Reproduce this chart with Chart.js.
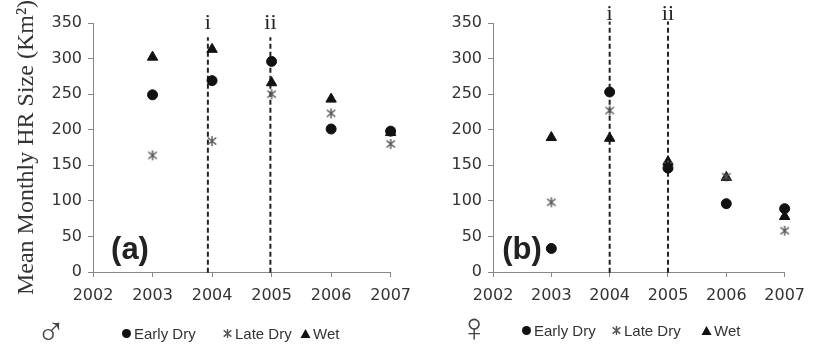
<!DOCTYPE html>
<html>
<head>
<meta charset="utf-8">
<script src="https://cdn.jsdelivr.net/npm/chart.js@4.4.0/dist/chart.umd.min.js"></script>
<style>
  body { margin: 0; background: #fff; }
  #wrap { position: relative; width: 814px; height: 350px; overflow: hidden; background: #fff; }
  .panel { position: absolute; top: 0; height: 315px; }
  .sex { position: absolute; font-family: "DejaVu Sans", sans-serif; font-weight: 200; font-size: 40px; color: #444; line-height: 1; }
  .legend-item { position: absolute; display: flex; align-items: center; font-family: "Liberation Sans", Arial, sans-serif; font-size: 15px; color: #333; }
  .legend-item canvas { margin-right: 2px; }
</style>
</head>
<body>
<div id="wrap">
  <div class="panel" style="left:0; width:420px;"><canvas id="maleChart"></canvas></div>
  <div class="panel" style="left:410px; width:404px;"><canvas id="femaleChart"></canvas></div>
  <span class="sex" style="left:36px; top:311px;">♂</span>
  <span class="sex" style="left:459px; top:307px;">♀</span>
  <div id="maleLegend"></div>
  <div id="femaleLegend"></div>
</div>
<script>
const years = [2003, 2004, 2005, 2006, 2007];
const seasons = ['Early Dry', 'Late Dry', 'Wet'];

const maleEarlyDry = [249, 269, 296, 201, 198];
const maleLateDry = [164, 184, 250, 223, 180];
const maleWet = [302, 313, 266, 243, 196];

const femaleEarlyDry = [33, 253, 146, 96, 89];
const femaleLateDry = [98, 227, 150, 134, 58];
const femaleWet = [189, 188, 155, 133, 78];

const eventLabels = ['i', 'ii'];
const maleEvents = [2003.93, 2004.98];
const femaleEvents = [2004, 2005];

// asterisk marker: vertical stroke plus an X
function makeAsterisk(size, color) {
    const c = document.createElement('canvas');
    c.width = size; c.height = size;
    const g = c.getContext('2d');
    g.strokeStyle = color;
    g.lineWidth = 1.4;
    const m = size / 2, r = size / 2 - 1;
    g.beginPath();
    g.moveTo(m, m - r); g.lineTo(m, m + r);
    g.moveTo(m - r * 0.85, m - r * 0.7); g.lineTo(m + r * 0.85, m + r * 0.7);
    g.moveTo(m - r * 0.85, m + r * 0.7); g.lineTo(m + r * 0.85, m - r * 0.7);
    g.stroke();
    return c;
}
const asterisk = makeAsterisk(12, '#555');

const toPoints = vals => vals.map((v, i) => ({ x: years[i], y: v }));

function eventLine(x, top) {
    return {
        data: [{ x: x, y: -1 }, { x: x, y: top }],
        showLine: true,
        borderColor: '#222',
        borderWidth: 2,
        borderDash: [5, 3],
        pointRadius: 0,
        clip: false
    };
}

const panelText = {
    id: 'panelText',
    afterDraw(chart, args, opts) {
        const ctx = chart.ctx;
        const xs = chart.scales.x;
        ctx.save();
        ctx.fillStyle = '#222';
        ctx.font = 'bold 31px "Liberation Sans", Arial, sans-serif';
        ctx.textAlign = 'center';
        ctx.textBaseline = 'middle';
        ctx.fillText(opts.tag, chart.chartArea.left + opts.tagDx, opts.tagY);
        ctx.font = '22px "Liberation Serif", "Times New Roman", serif';
        ctx.textBaseline = 'alphabetic';
        opts.events.forEach((ev, i) => {
            ctx.fillText(eventLabels[i], xs.getPixelForValue(ev), opts.eventY);
        });
        ctx.restore();
    }
};

function makeChart(id, early, late, wet, events, lineTop, opts) {
    const datasets = [
        { label: seasons[0], data: toPoints(early), pointStyle: 'circle', pointRadius: 5, backgroundColor: '#111', borderColor: '#111', clip: false },
        { label: seasons[1], data: toPoints(late), pointStyle: asterisk, pointRadius: 5, backgroundColor: '#555', borderColor: '#555', clip: false },
        { label: seasons[2], data: toPoints(wet), pointStyle: 'triangle', pointRadius: 6, backgroundColor: '#111', borderColor: '#111', clip: false }
    ];
    events.forEach(ev => datasets.push(eventLine(ev, lineTop)));

    return new Chart(document.getElementById(id), {
        type: 'scatter',
        data: { datasets: datasets },
        options: {
            responsive: true,
            maintainAspectRatio: false,
            animation: false,
            layout: { padding: { top: 23, right: opts.padRight, left: 0, bottom: 0 } },
            plugins: {
                legend: { display: false },
                tooltip: { enabled: false },
                panelText: { tag: opts.tag, tagDx: opts.tagDx, tagY: 250, events: events, eventY: opts.eventY }
            },
            scales: {
                x: {
                    type: 'linear',
                    min: 2002, max: 2007,
                    afterFit: s => { s.height = 43; },
                    ticks: {
                        stepSize: 1,
                        padding: 9,
                        color: '#333',
                        font: { family: '"DejaVu Sans", Verdana, sans-serif', size: 16 },
                        callback: v => String(v)
                    },
                    grid: { drawOnChartArea: false, tickLength: 5, color: '#888' },
                    border: { color: '#888', width: 1 }
                },
                y: {
                    min: 0, max: 350,
                    afterFit: s => { s.width = opts.axisWidth; },
                    ticks: {
                        stepSize: 50,
                        padding: 6,
                        color: '#333',
                        font: { family: '"DejaVu Sans", Verdana, sans-serif', size: 16 }
                    },
                    grid: { drawOnChartArea: false, tickLength: 5, color: '#888' },
                    border: { color: '#888', width: 1 },
                    title: {
                        display: opts.yTitle !== '',
                        text: opts.yTitle,
                        color: '#333',
                        padding: { top: 12, bottom: 0 },
                        font: { family: '"Liberation Serif", "Times New Roman", serif', size: 24 }
                    }
                }
            }
        },
        plugins: [panelText]
    });
}

makeChart('maleChart', maleEarlyDry, maleLateDry, maleWet, maleEvents, 330,
    { padRight: 29, axisWidth: 93, yTitle: 'Mean Monthly HR Size (Km²)', tag: '(a)', tagDx: 37, eventY: 29 });
makeChart('femaleChart', femaleEarlyDry, femaleLateDry, femaleWet, femaleEvents, 352,
    { padRight: 23, axisWidth: 83, yTitle: '', tag: '(b)', tagDx: 29, eventY: 20 });

// legends built from the season names
function marker(kind) {
    const c = document.createElement('canvas');
    c.width = 11; c.height = 11;
    const g = c.getContext('2d');
    g.fillStyle = '#111';
    if (kind === 0) { g.beginPath(); g.arc(5.5, 5.5, 4.5, 0, Math.PI * 2); g.fill(); }
    if (kind === 1) { g.drawImage(makeAsterisk(11, '#555'), 0, 0); }
    if (kind === 2) { g.beginPath(); g.moveTo(5.5, 1); g.lineTo(10.5, 10); g.lineTo(0.5, 10); g.closePath(); g.fill(); }
    return c;
}
function buildLegend(id, xs, top) {
    const box = document.getElementById(id);
    seasons.forEach((name, i) => {
        const item = document.createElement('div');
        item.className = 'legend-item';
        item.style.left = xs[i] + 'px';
        item.style.top = top + 'px';
        item.appendChild(marker(i));
        item.appendChild(document.createTextNode(name));
        box.appendChild(item);
    });
}
buildLegend('maleLegend', [121, 222, 300], 325);
buildLegend('femaleLegend', [521, 611, 701], 322);
</script>
</body>
</html>
